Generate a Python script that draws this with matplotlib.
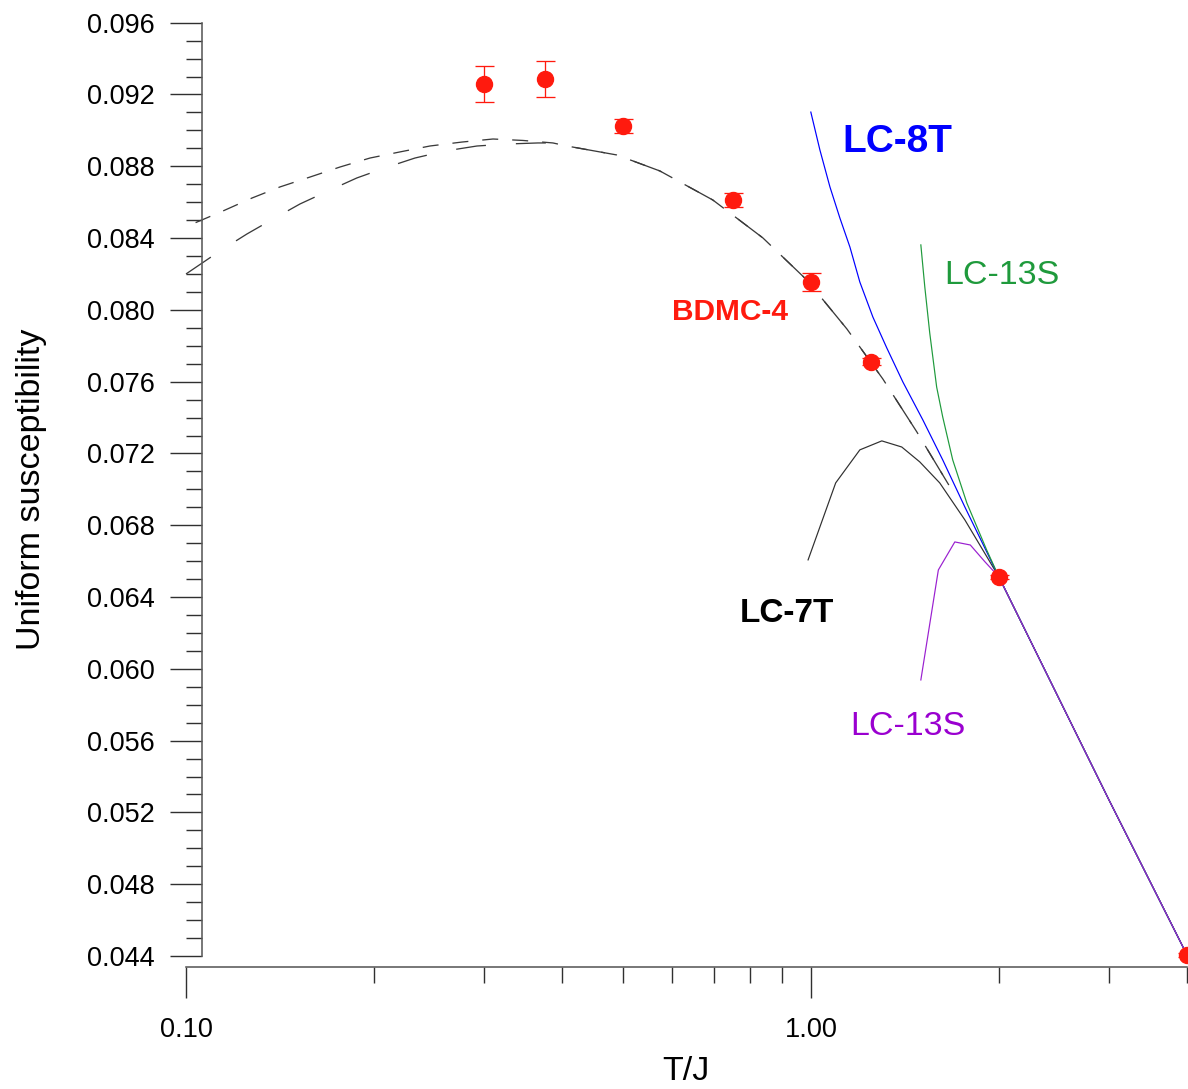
import numpy as np
import matplotlib
matplotlib.use("Agg")
import matplotlib.pyplot as plt
from matplotlib.ticker import FixedLocator, FormatStrFormatter, NullFormatter

plt.rcParams['font.family'] = ['Liberation Sans', 'DejaVu Sans']
plt.rcParams['lines.scale_dashes'] = False

# ---- data ----
# BDMC-4 points
bdmc_T = [0.30, 0.375, 0.50, 0.75, 1.00, 1.25, 2.00, 4.00]
bdmc_chi = [0.09258, 0.09285, 0.09025, 0.08612, 0.08157, 0.07711, 0.06512, 0.04406]
bdmc_err = [0.0010, 0.0010, 0.0004, 0.0004, 0.0005, 0.0002, 0.0001, 0.0001]

# dashed curve (short dashes)
dashA_T = [0.1036, 0.1146, 0.1275, 0.1414, 0.1579, 0.1764, 0.197, 0.220, 0.2457,
           0.2764, 0.310, 0.346, 0.3866, 0.407, 0.4596, 0.4893, 0.5733, 0.697,
           0.838, 0.985, 1.142, 1.304, 1.478, 1.663]
dashA_chi = [0.08486, 0.08551, 0.08623, 0.08685, 0.08740, 0.08796, 0.08846, 0.08880,
             0.08913, 0.08935, 0.08952, 0.08944, 0.08930, 0.08913, 0.08880, 0.08863,
             0.08774, 0.08612, 0.08401, 0.08167, 0.07894, 0.07615, 0.07320, 0.07024]

# dashed curve (long dashes)
dashB_T = [0.100, 0.1133, 0.1252, 0.1378, 0.1522, 0.1687, 0.1877, 0.2082, 0.2325,
           0.2597, 0.2922, 0.3263, 0.3658, 0.3866, 0.407, 0.4596, 0.4893, 0.5733,
           0.697, 0.838, 0.985, 1.142, 1.304, 1.478, 1.663]
dashB_chi = [0.08200, 0.08328, 0.08423, 0.08506, 0.08590, 0.08662, 0.08735, 0.08791,
             0.08846, 0.08885, 0.08913, 0.08924, 0.08930, 0.08930, 0.08913, 0.08880,
             0.08863, 0.08774, 0.08612, 0.08401, 0.08167, 0.07894, 0.07615, 0.07320,
             0.07024]

# LC-7T (black)
lc7t_T = [0.99, 1.096, 1.198, 1.299, 1.398, 1.494, 1.608, 1.764, 2.0, 3.0, 4.0]
lc7t_chi = [0.06607, 0.07036, 0.07220, 0.07270, 0.07236, 0.07153, 0.07036, 0.06830,
            0.06512, 0.05270, 0.04406]

# LC-8T (blue)
lc8t_T = [1.0, 1.034, 1.073, 1.113, 1.155, 1.198, 1.257, 1.323, 1.404, 1.511,
          1.626, 1.764, 2.0, 3.0, 4.0]
lc8t_chi = [0.09102, 0.08891, 0.08685, 0.08512, 0.08350, 0.08155, 0.07960, 0.07788,
            0.07598, 0.07387, 0.07164, 0.06902, 0.06512, 0.05270, 0.04406]

# LC-13S (green)
lc13g_T = [1.500, 1.522, 1.550, 1.590, 1.626, 1.687, 1.777, 1.912, 2.0, 3.0, 4.0]
lc13g_chi = [0.08362, 0.08128, 0.07871, 0.07570, 0.07403, 0.07164, 0.06924, 0.06662,
             0.06512, 0.05270, 0.04406]

# LC-13S (purple)
lc13p_T = [1.5, 1.6, 1.7, 1.8, 1.9, 2.0, 3.0, 4.0]
lc13p_chi = [0.05938, 0.06551, 0.06707, 0.06690, 0.06596, 0.06512, 0.05270, 0.04406]

x_major = [0.1, 1.0]
x_minor = [0.2, 0.3, 0.4, 0.5, 0.6, 0.7, 0.8, 0.9, 2.0, 3.0, 4.0]
y_major = [0.044, 0.048, 0.052, 0.056, 0.060, 0.064, 0.068, 0.072, 0.076, 0.080,
           0.084, 0.088, 0.092, 0.096]
y_minor = [round(0.044 + 0.001 * i, 3) for i in range(53)]

# ---- figure ----
W, H, DPI = 1188, 1089, 100
fig = plt.figure(figsize=(W / DPI, H / DPI), dpi=DPI)
ax = fig.add_axes([186 / W, 133 / H, 1001 / W, (1066.3 - 133) / H])
ax.set_xscale('log')
ax.set_xlim(0.1, 4.0)
ax.set_ylim(0.044, 0.096)

px = 0.72  # points per pixel
dash_col = '#3a3a3a'
ax.plot(dashA_T, dashA_chi, color=dash_col, lw=1.3 * px, dashes=(16 * px, 14 * px),
        clip_on=False)
ax.plot(dashB_T, dashB_chi, color=dash_col, lw=1.3 * px, dashes=(30 * px, 30 * px),
        clip_on=False)
ax.plot(lc7t_T, lc7t_chi, color='#303030', lw=1.2 * px, clip_on=False)
ax.plot(lc8t_T, lc8t_chi, color='#0000ff', lw=1.2 * px, clip_on=False)
ax.plot(lc13g_T, lc13g_chi, color='#1f9a3c', lw=1.2 * px, clip_on=False)
ax.plot(lc13p_T, lc13p_chi, color='#9a20d0', lw=1.2 * px, clip_on=False)

red = '#ff1a0e'
ax.errorbar(bdmc_T, bdmc_chi, yerr=bdmc_err, fmt='o', color=red, ms=16 * px,
            mec=red, mfc=red, ecolor=red, elinewidth=1.3 * px, capsize=9.5 * px,
            capthick=1.3 * px, clip_on=False, zorder=5)

# annotations
ax.text(1.125, 0.08935, 'LC-8T', color='#0000ff', fontsize=28, fontweight='bold',
        ha='left', va='center')
ax.text(1.638, 0.08194, 'LC-13S', color='#1f9a3c', fontsize=24.5,
        ha='left', va='center')
ax.text(0.599, 0.07988, 'BDMC-4', color=red, fontsize=21.5, fontweight='bold',
        ha='left', va='center')
ax.text(0.770, 0.06306, 'LC-7T', color='black', fontsize=24, fontweight='bold',
        ha='left', va='center')
ax.text(1.155, 0.05676, 'LC-13S', color='#9a00d0', fontsize=24.5,
        ha='left', va='center')

# spines
for s in ['top', 'right']:
    ax.spines[s].set_visible(False)
spine_col = '#5a5a5a'
ax.spines['left'].set_position(('axes', 16 / 1001))
ax.spines['bottom'].set_position(('outward', 11 * px))
for s in ['left', 'bottom']:
    ax.spines[s].set_color(spine_col)
    ax.spines[s].set_linewidth(1.6 * px)

ax.xaxis.set_major_locator(FixedLocator(x_major))
ax.xaxis.set_minor_locator(FixedLocator(x_minor))
ax.xaxis.set_major_formatter(FormatStrFormatter('%.2f'))
ax.xaxis.set_minor_formatter(NullFormatter())
ax.yaxis.set_major_locator(FixedLocator(y_major))
ax.yaxis.set_minor_locator(FixedLocator(y_minor))
ax.yaxis.set_major_formatter(FormatStrFormatter('%.3f'))

ax.tick_params(axis='both', which='both', direction='out', color='#303030',
               width=1.4 * px, labelsize=19.5)
ax.tick_params(axis='y', which='major', length=32 * px, pad=15 * px)
ax.tick_params(axis='y', which='minor', length=16.5 * px)
ax.tick_params(axis='x', which='major', length=31 * px, pad=19 * px)
ax.tick_params(axis='x', which='minor', length=16 * px)

ax.set_xlabel('T/J', fontsize=24.5)
ax.xaxis.set_label_coords((686 - 186) / 1001, (956 - 1056) / (956 - 22.7))
ax.set_ylabel('Uniform susceptibility', fontsize=24.5)
ax.yaxis.set_label_coords((47 - 186) / 1001, (956 - 489) / (956 - 22.7))

fig.savefig('out.png', dpi=DPI)
